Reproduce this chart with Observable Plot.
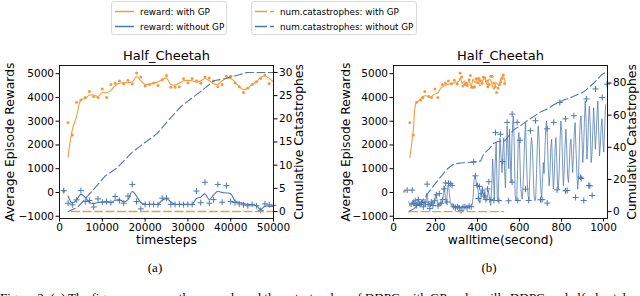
<!DOCTYPE html>
<html><head><meta charset="utf-8">
<script src="https://cdn.jsdelivr.net/npm/d3@7"></script>
<script src="https://cdn.jsdelivr.net/npm/@observablehq/plot@0.6"></script>
<style>
html,body{margin:0;padding:0;background:#fff}
#root{position:relative;width:640px;height:296px;overflow:hidden;background:#fff;font-family:"DejaVu Sans",sans-serif}
.leg{position:absolute;border:1px solid #d9d9d9;border-radius:3px;background:#fff;box-sizing:border-box}
.leg text{font-family:"DejaVu Sans",sans-serif;font-size:8.8px;fill:#000}
.cap{position:absolute;font-family:"Liberation Serif",serif;font-size:13px;line-height:16px;color:#000;text-align:center}
</style></head>
<body><div id="root"></div>
<script>
// ---------- DATA ----------
const titles = ["Half_Cheetah", "Half_Cheetah"];
const xLabels = ["timesteps", "walltime(second)"];
const legendLabels = ["reward: with GP", "reward: without GP", "num.catastrophes: with GP", "num.catastrophes: without GP"];
const rewardTicks = [-1000, 0, 1000, 2000, 3000, 4000, 5000];
const stepTicks = [0, 10000, 20000, 30000, 40000, 50000];
const wallTicks = [0, 200, 400, 600, 800, 1000];
const catTicksA = [0, 5, 10, 15, 20, 25, 30];
const catTicksB = [0, 20, 40, 60, 80];

// (a) raw rewards with GP, per timestep
const gpSteps = [1000,2000,3000,4000,5000,6000,7000,8000,9000,10000,11000,12000,13000,14000,15000,16000,17000,18000,19000,20000,21000,22000,23000,24000,25000,26000,27000,28000,29000,30000,31000,32000,33000,34000,35000,36000,37000,38000,39000,40000,41000,42000,43000,44000,45000,46000,47000,48000,49000];
const gpReward = [50,2950,2420,3800,3890,4000,4250,4040,4000,4360,4000,4550,4600,4690,4580,4720,4570,5030,4860,4480,4550,4610,4500,4740,4920,4430,4430,4450,4790,4620,4800,4700,4600,4860,4820,4690,4450,4550,4890,4890,4610,4450,4210,4400,4550,4660,4800,4940,4590];
// (a) smoothed rewards with GP
const smoothSteps = [2000,3000,4000,5000,6000,7000,8000,9000,10000,11000,12000,13000,14000,15000,16000,17000,18000,19000,20000,21000,22000,23000,24000,25000,26000,27000,28000,29000,30000,31000,32000,33000,34000,35000,36000,37000,38000,39000,40000,41000,42000,43000,44000,45000,46000,47000,48000,49000,50000];
const gpSmooth = [1480,2650,3200,3900,3950,4100,4100,4050,4200,4200,4300,4500,4600,4620,4620,4650,4880,4700,4550,4550,4600,4650,4750,4820,4550,4520,4600,4700,4720,4700,4650,4700,4800,4700,4580,4550,4700,4800,4800,4650,4450,4330,4400,4550,4650,4850,4900,4800,4650];
// (a) raw rewards without GP
const noGpSteps = [1000,2000,3000,4000,5000,6000,7000,8000,9000,10000,11000,12000,13000,14000,15000,16000,17000,18000,19000,20000,21000,22000,23000,24000,25000,26000,27000,28000,29000,30000,31000,32000,33000,34000,35000,36000,37000,38000,39000,40000,41000,42000,43000,44000,45000,46000,47000,48000,49000,50000];
const noGpReward = [80,-450,-520,-310,80,-380,-340,-610,-270,-410,-380,-430,-170,-340,-450,-150,340,-380,-690,-500,-505,-500,-510,-240,-240,-500,-505,-500,-510,-500,-505,60,-430,430,-450,-300,340,-410,290,-380,-420,-480,-520,-560,-500,-560,-760,-480,-520,-540];
// (a) smoothed rewards without GP
const noGpSmooth = [-150,-450,-300,-80,-200,-420,-460,-420,-400,-400,-420,-330,-300,-400,-300,40,-150,-420,-500,-500,-500,-500,-330,-250,-400,-500,-500,-500,-500,-500,-250,-200,-50,-300,-100,50,0,-20,-50,-350,-420,-460,-500,-520,-550,-720,-580,-580,-600];
// (a) cumulative catastrophes
const gpCatSteps = [2800, 50000];
const gpCat = [0, 0];
const noGpCatSteps = [2000,4000,5500,7900,10600,13300,17000,19700,22800,25200,28300,31400,33700,36000,38300,40000,42000,43800,50000];
const noGpCat = [0,0.8,2.2,4.7,7.6,9.3,12.8,14.7,16.8,19.4,22.6,24.8,26.4,28.2,28.6,29.0,29.5,30,30];

// (b) with GP: walltime of each evaluation (same rewards as gpReward)
const gpWall = [52,78,94,110,129,139,149,168,181,197,211,232,247,261,276,290,304,317,325,331,339,345,352,360,366,372,380,386,393,401,407,414,422,428,435,443,449,456,463,470,478,484,491,498,505,511,517,523,529];
const gpSmoothWall = [78,94,108,125,145,164,179,192,211,227,248,271,295,311,319,327,338,348,359,370,379,390,402,411,422,433,446,456,465,478,490,503,513,522,533];
const gpSmoothWallR = [1470,2600,3780,3890,4060,4060,4020,4130,4200,4410,4510,4590,4620,4690,4830,4590,4690,4510,4690,4480,4760,4620,4830,4480,4650,4830,4510,4790,4690,4340,4620,4510,4830,4900,4590];
// (b) without GP: smoothed reward curve [walltime, reward]
const noGpWallLine = [
[73,-400],[77,-550],[80,-450],[84,-600],[88,-380],[92,-520],[95,-300],[99,-560],[103,-420],[107,-600],[111,-400],[115,-500],[119,-250],[123,-550],[127,-380],[131,-580],[135,-450],[139,-300],[143,-520],[147,-400],[151,-600],[155,-350],[159,-30],[163,-250],[167,-520],[171,-450],[175,-600],[179,-420],[183,-550],[187,-380],[191,-500],[195,-420],[199,-200],[203,-80],[207,-300],[211,-520],[215,-450],[219,-560],[223,-400],[227,-520],[231,-450],[235,-250],[239,-50],[243,250],[247,-200],[251,-480],[255,-150],[259,300],[263,250],[267,-100],[271,-450],[275,-550],[279,-450],[283,-600],[287,-520],[291,-620],[295,-560],[299,-650],[303,-580],[307,-620],[311,-550],[315,-680],[319,-600],[323,-640],[327,-560],[331,-620],[335,-580],[339,-640],[343,-600],[347,-560],[351,-620],[355,-600],[359,-540],[363,-600],[367,-560],[371,-620],[375,-500],[379,-200],[383,450],[387,700],[391,650],[395,300],[399,400],[403,100],[407,-200],[411,-450],[415,-300],[419,-100],[423,200],[427,-50],[431,-250],[435,50],[439,-150],[443,-350],[447,-200],[451,100],[455,-100],[459,-400],[463,-550],
[468,300],[472,1400],[476,600],[480,-300],[484,1200],[489,2100],[494,-200],[498,-400],[502,800],[507,2300],[512,1500],[517,840],[521,1800],[525,2300],[529,900],[533,200],[537,1500],[541,2800],[545,1800],[549,1000],[552,2660],[556,1500],[560,400],[564,2200],[568,3000],[571,3220],[575,2000],[579,-100],[583,-350],[587,-200],[591,1000],[594,2300],[597,2520],[601,1800],[605,400],[609,-100],[613,-280],[617,300],[621,1200],[625,2400],[629,2940],[633,1500],[637,400],[641,-140],[645,-300],[649,600],[653,1800],[657,2310],[661,2000],[665,900],[669,-100],[673,-350],[677,-280],[681,800],[685,2000],[689,2800],[693,2300],[697,1000],[701,200],[705,-200],[709,400],[713,1260],[717,800],[721,1800],[725,2700],[729,3010],[733,2200],[737,1000],[741,280],[745,800],[749,1900],[753,2240],[757,1200],[761,140],[765,600],[769,1800],[773,2310],[777,1500],[781,300],[785,140],[789,900],[793,2200],[797,3010],[801,2600],[805,1200],[809,280],[813,900],[817,2000],[821,2660],[825,1800],[829,700],[833,420],[837,1100],[841,2000],[845,2240],[849,1500],[853,840],[857,1600],[861,2500],[865,2940],[869,1800],[873,900],[877,140],[881,600],[885,2000],[889,3000],[893,3220],[897,2400],[901,1260],[905,1800],[909,3000],[913,3850],[917,3000],[921,1400],[925,2000],[929,3200],[933,3640],[937,2800],[941,1260],[945,1600],[949,2600],[953,3570],[957,2800],[961,1820],[965,2400],[969,3300],[973,3850],[977,2600],[981,1540],[985,2000],[989,2800],[993,3100],[997,2200],[1001,1700],[1005,2600],[1010,3700]];
// (b) without GP: raw rewards [walltime, reward]
const noGpWallPts = [
[65,100],[89,100],[95,-450],[103,-350],[110,-550],[118,-300],[126,-500],[134,-420],[142,-600],[150,-400],[160,350],[165,-500],[173,-680],[180,-400],[188,-550],[196,-350],[204,-100],[212,-560],[218,-50],[226,-450],[234,-300],[240,150],[248,400],[255,-400],[262,390],[271,370],[279,300],[286,-600],[295,-640],[304,-600],[313,-650],[322,-770],[331,-620],[340,-600],[350,-640],[360,-580],[370,-600],[382,1290],[390,700],[398,300],[404,-250],[410,250],[416,-50],[424,100],[432,-150],[440,-300],[448,150],[454,450],[460,-300],[478,-340],[486,2520],[502,-340],[510,2450],[520,1300],[541,2950],[548,-350],[565,3300],[565,434],[589,2950],[592,-336],[603,2200],[629,140],[644,-336],[652,2600],[676,3020],[700,-308],[708,-300],[732,2680],[732,-448],[763,2950],[779,110],[792,3790],[819,3100],[819,70],[827,84],[859,3230],[867,-210],[890,644],[894,590],[906,-336],[919,3940],[930,294],[935,280],[946,-126],[962,4360],[994,4000],[1017,4560]];
// (b) cumulative catastrophes
const gpCatWall = [77, 525];
const gpCatB = [0, 0];
const noGpCatWall = [73,100,129,150,176,200,224,256,285,319,380,415,430,455,478,494,530,573,600,637,700,735,763,811,845,906,954,994,1014];
const noGpCatB = [0,2,5.5,9,13.5,17.5,21.5,26.5,29.5,30.2,30.8,31.5,36,39,42.5,43.5,44,51,53,56.5,62,64,66.5,69.5,71,74.5,80,85.5,86.6];

// ---------- DRAW ----------
const blue = "#4c78b0", orange = "#f59a3c";
const fmt = d => (d < 0 ? "\u2212" : "") + Math.abs(d);
const zip = (a, b) => a.map((v, i) => [v, b[i]]);
const root = document.getElementById("root");
const W = 320, H = 210, TOP = 40;
const rewardDomain = [-1095, 5345];

function base(mL, mR) {
  return {width: W, height: H, marginLeft: mL, marginRight: mR, marginTop: 25, marginBottom: 32,
    style: {background: "transparent", fontFamily: "'DejaVu Sans', sans-serif", fontSize: "10.5px", color: "#000", overflow: "visible"}};
}
function place(svg, left) {
  svg.style.position = "absolute"; svg.style.left = left + "px"; svg.style.top = TOP + "px";
  root.appendChild(svg);
}
function panel(c) {
  const r = Plot.plot({
    ...base(c.mL, c.mR),
    x: {domain: c.xDomain, ticks: c.xTicks, tickFormat: fmt, tickSize: 3.5, tickPadding: 2, label: null},
    y: {domain: rewardDomain, ticks: rewardTicks, tickFormat: fmt, tickSize: 3.5, tickPadding: 2, label: null},
    marks: [
      Plot.line(c.gpLine, {x: d => d[0], y: d => d[1], stroke: orange, strokeWidth: 1.1, curve: "catmull-rom"}),
      Plot.dot(c.gpPts, {x: d => d[0], y: d => d[1], r: 1.5, fill: orange, stroke: null}),
      Plot.line(c.noLine, {x: d => d[0], y: d => d[1], stroke: blue, strokeWidth: c.noWidth, strokeOpacity: c.noOpacity, curve: c.noCurve}),
      Plot.dot(c.noPts, {x: d => d[0], y: d => d[1], symbol: "plus", r: 2.1, stroke: blue, strokeWidth: 1}),
      Plot.text([c.title], {frameAnchor: "top", dy: -10, lineAnchor: "middle", fontSize: 13}),
      Plot.text([c.xLabel], {frameAnchor: "bottom", dy: 22, lineAnchor: "middle", fontSize: 12.3}),
      Plot.text(["Average Episode Rewards"], {frameAnchor: "left", dx: c.yLabelDx, rotate: -90, textAnchor: "middle", lineAnchor: "middle", fontSize: 12.3})
    ]
  });
  place(r, c.left);
  const k = Plot.plot({
    ...base(c.mL, c.mR),
    x: {domain: c.xDomain, axis: null},
    y: {domain: c.catDomain, ticks: c.catTicks, axis: "right", tickFormat: fmt, tickSize: 3.5, tickPadding: 2, label: null},
    marks: [
      Plot.line(c.gpCat, {x: d => d[0], y: d => d[1], stroke: orange, strokeWidth: 1.4, strokeDasharray: "8,3.5"}),
      Plot.line(c.noCat, {x: d => d[0], y: d => d[1], stroke: blue, strokeWidth: 1.1, strokeDasharray: "8,3.5"}),
      Plot.frame({stroke: "#000", strokeWidth: 0.9}),
      Plot.text(["Cumulative Catastrophes"], {frameAnchor: "right", dx: c.y2LabelDx, rotate: -90, textAnchor: "middle", lineAnchor: "middle", fontSize: 12.3})
    ]
  });
  place(k, c.left);
}

panel({left: 0, mL: 59, mR: 47, xDomain: [0, 50000], xTicks: stepTicks, title: titles[0], xLabel: xLabels[0],
  gpLine: zip(smoothSteps, gpSmooth), gpPts: zip(gpSteps, gpReward),
  noLine: zip(smoothSteps, noGpSmooth), noPts: zip(noGpSteps, noGpReward), noCurve: "catmull-rom", noWidth: 1.1, noOpacity: 1,
  gpCat: zip(gpCatSteps, gpCat), noCat: zip(noGpCatSteps, noGpCat),
  catDomain: [-1.5, 31.5], catTicks: catTicksA, yLabelDx: -49, y2LabelDx: 26});

panel({left: 320, mL: 73, mR: 33, xDomain: [0, 1019], xTicks: wallTicks, title: titles[1], xLabel: xLabels[1],
  gpLine: zip(gpSmoothWall, gpSmoothWallR), gpPts: zip(gpWall, gpReward),
  noLine: noGpWallLine, noPts: noGpWallPts, noCurve: "linear", noWidth: 0.9, noOpacity: 0.85,
  gpCat: zip(gpCatWall, gpCatB), noCat: zip(noGpCatWall, noGpCatB),
  catDomain: [-4.3, 90.9], catTicks: catTicksB, yLabelDx: -47, y2LabelDx: 25});

// legends
function legend(left, width, items, dashed) {
  const div = document.createElement("div");
  div.className = "leg";
  Object.assign(div.style, {left: left + "px", top: "1px", width: width + "px", height: "34px"});
  const svg = d3.create("svg").attr("width", width).attr("height", 34);
  items.forEach((it, i) => {
    const y = 9.5 + i * 15;
    svg.append("line").attr("x1", 3).attr("x2", 22).attr("y1", y).attr("y2", y)
      .attr("stroke", it.color).attr("stroke-width", 1.5)
      .attr("stroke-dasharray", dashed ? "12,3" : null);
    svg.append("text").attr("x", 28).attr("y", y).attr("dy", "0.35em").text(it.label);
  });
  div.appendChild(svg.node());
  root.appendChild(div);
}
legend(111, 116, [{label: legendLabels[0], color: orange}, {label: legendLabels[1], color: blue}], false);
legend(251, 166, [{label: legendLabels[2], color: orange}, {label: legendLabels[3], color: blue}], true);

// sub-captions
function cap(text, left, top, width, align) {
  const d = document.createElement("div");
  d.className = "cap"; d.textContent = text;
  Object.assign(d.style, {left: left + "px", top: top + "px", width: width + "px", textAlign: align || "center", whiteSpace: "nowrap"});
  root.appendChild(d);
}
cap("(a)", 135, 260, 40);
cap("(b)", 469, 260, 40);
cap("Figure 2: (a) The figure compares the rewards and the catastrophes of DDPG with GP and vanilla DDPG on half-cheetah with", 0, 290, 700, "left");
</script>
</body></html>
